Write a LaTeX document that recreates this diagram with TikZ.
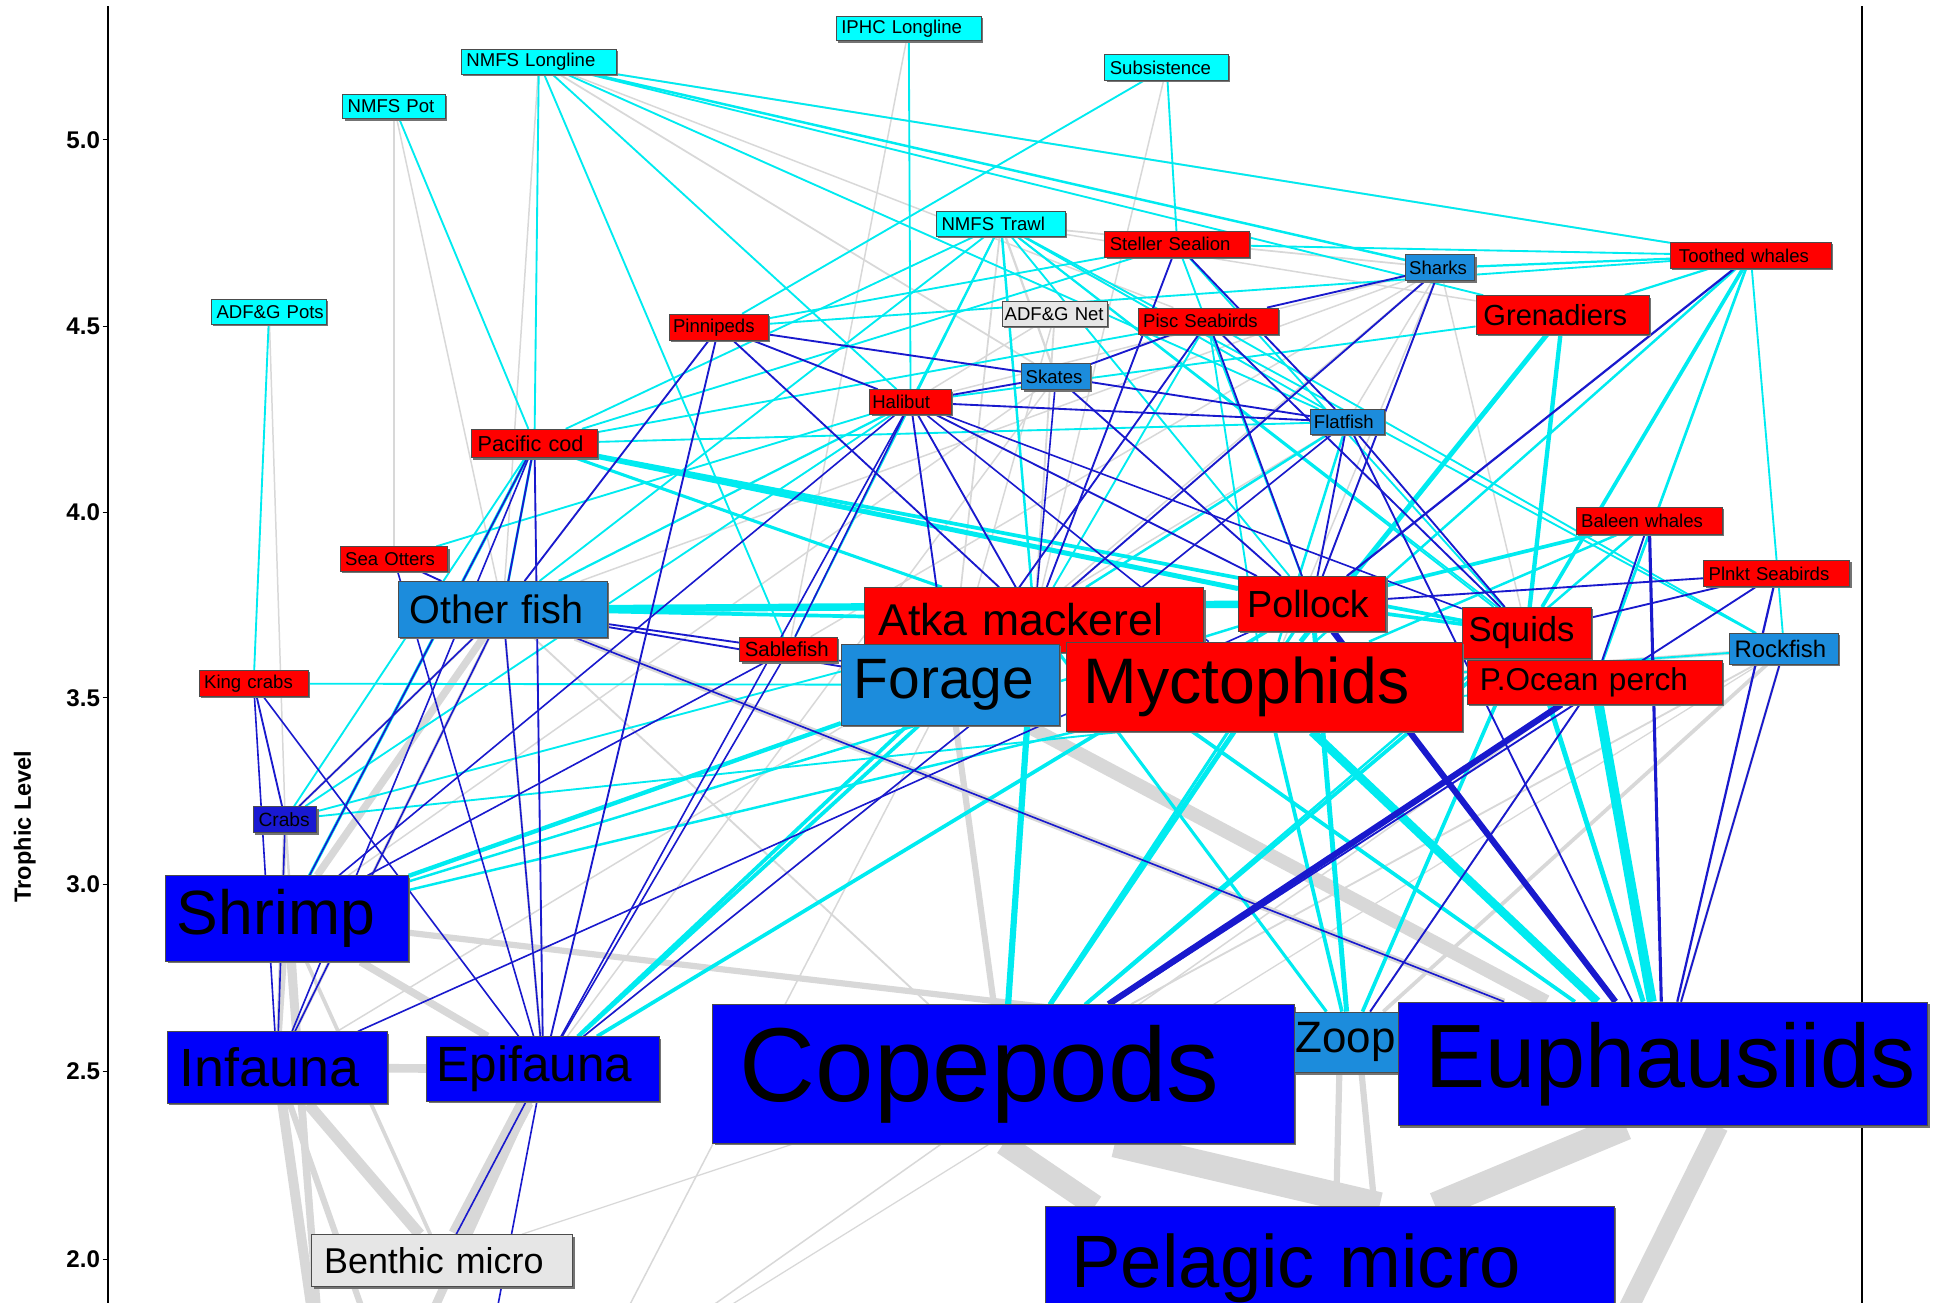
\documentclass[tikz,border=0pt]{standalone}
\usepackage{fontspec}
\setmainfont{Liberation Sans}
\usetikzlibrary{shadows}
\pgfdeclarelayer{bg}
\pgfsetlayers{bg,main}

\definecolor{fCy}{RGB}{0,255,255}
\definecolor{fRd}{RGB}{255,0,0}
\definecolor{fSt}{RGB}{28,140,220}
\definecolor{fBl}{RGB}{0,0,250}
\definecolor{fCb}{RGB}{25,25,210}
\definecolor{fGy}{RGB}{230,230,230}
\definecolor{eCy}{RGB}{0,235,240}
\definecolor{eDb}{RGB}{25,25,205}
\definecolor{eGy}{RGB}{216,216,216}

\tikzset{
  bx/.style={draw=black!70, line width=0.8pt, inner ysep=0pt, align=left,
    drop shadow={shadow xshift=1.5pt, shadow yshift=-1.5pt, fill=black!55, opacity=1}},
  nd/.style n args={4}{text width=#1pt, minimum height=#2pt, inner xsep=#3pt,
    font=\fontsize{#4}{#4}\selectfont},
  lg/.style={draw=eGy, line width=#1pt},
  lc/.style={draw=eCy, line width=#1pt},
  ld/.style={draw=eDb, line width=#1pt},
  tick/.style={anchor=east, inner sep=0pt, font=\bfseries\fontsize{19.5}{19.5}\selectfont}
}

\begin{document}
\begin{tikzpicture}[x=1pt, y=-1pt, line cap=butt]
\useasboundingbox (0,0) rectangle (1568,1053);
\clip (0,0) rectangle (1568,1053);

% ---------- fisheries ----------
\node[bx, fill=fCy, nd={109}{20}{4}{15}] (iphc) at (734.5,23) {\mbox{IPHC Longline}};
\node[bx, fill=fCy, nd={117}{20}{4}{15}] (nll) at (435.5,50) {\mbox{NMFS Longline}};
\node[bx, fill=fCy, nd={92}{21}{4}{15}] (subs) at (943,54.5) {\mbox{Subsistence}};
\node[bx, fill=fCy, nd={75}{20}{4}{15}] (npot) at (318.5,86) {\mbox{NMFS Pot}};
\node[bx, fill=fCy, nd={96}{20}{4}{15}] (ntrawl) at (809,181) {\mbox{NMFS Trawl}};
\node[bx, fill=fCy, nd={85}{20}{4}{15}] (apots) at (217.5,252) {\mbox{ADF\&G Pots}};
\node[bx, fill=fGy, nd={81}{20}{2}{15}] (anet) at (852.5,254) {\mbox{ADF\&G Net}};

% ---------- upper predators ----------
\node[bx, fill=fRd, nd={109}{21}{4}{15}] (steller) at (951.5,197.5) {\mbox{Steller Sealion}};
\node[bx, fill=fSt, nd={50}{21}{3}{15}] (sharks) at (1164,216.5) {\mbox{Sharks}};
\node[bx, fill=fRd, nd={116}{21}{7}{15}] (toothed) at (1415,206.5) {\mbox{Toothed whales}};
\node[bx, fill=fRd, nd={128}{31}{6}{23.5}] (gren) at (1263,254.5) {\mbox{Grenadiers}};
\node[bx, fill=fRd, nd={105}{21}{4}{15}] (pisc) at (976.5,259.5) {\mbox{Pisc Seabirds}};
\node[bx, fill=fRd, nd={74}{21}{3}{15}] (pinn) at (581,264.5) {\mbox{Pinnipeds}};
\node[bx, fill=fSt, nd={49}{21}{3}{15}] (skates) at (853.5,304.5) {\mbox{Skates}};
\node[bx, fill=fRd, nd={62}{20}{2}{15}] (halibut) at (736,325) {\mbox{Halibut}};
\node[bx, fill=fSt, nd={54}{20}{3}{15}] (flat) at (1089,341) {\mbox{Flatfish}};
\node[bx, fill=fRd, nd={92}{23}{5}{17.5}] (pcod) at (432,358.5) {\mbox{Pacific cod}};
\node[bx, fill=fRd, nd={110}{22}{4}{15}] (baleen) at (1333,421) {\mbox{Baleen whales}};
\node[bx, fill=fRd, nd={79}{20}{4}{15}] (otters) at (318.5,452) {\mbox{Sea Otters}};
\node[bx, fill=fRd, nd={110}{21}{4}{15}] (plnkt) at (1436,463.5) {\mbox{Plnkt Seabirds}};

% ---------- fish ----------
\node[bx, fill=fSt, nd={151}{45}{9}{32}] (ofish) at (406.5,492.5) {\mbox{Other fish}};
\node[bx, fill=fRd, nd={252}{52}{11}{36}] (atka) at (836,501) {\mbox{Atka mackerel}};
\node[bx, fill=fRd, nd={105}{44}{7}{30.5}] (pollock) at (1060.5,488) {\mbox{Pollock}};
\node[bx, fill=fRd, nd={94}{41}{5}{28}] (squids) at (1234,511.5) {\mbox{Squids}};
\node[bx, fill=fSt, nd={80}{25}{4}{19.3}] (rock) at (1442,524.5) {\mbox{Rockfish}};
\node[bx, fill=fRd, nd={71}{20}{4}{16.5}] (sable) at (637.5,525) {\mbox{Sablefish}};
\node[bx, fill=fRd, nd={80}{21}{4}{15}] (kcrab) at (205,552.5) {\mbox{King crabs}};
\node[bx, fill=fSt, nd={156}{65}{10}{46}] (forage) at (768,553.5) {\mbox{Forage}};
\node[bx, fill=fRd, nd={292}{72}{14}{52}] (myct) at (1022,555) {\mbox{Myctophids}};
\node[bx, fill=fRd, nd={186}{35}{10}{25.5}] (pop) at (1289,551.5) {\mbox{P.Ocean perch}};

% ---------- invertebrates and plankton ----------
\node[bx, fill=fCb, nd={43}{21}{4}{15.5}] (crabs) at (230.5,662.5) {\mbox{Crabs}};
\node[bx, fill=fBl, nd={178}{69}{9}{50.5}] (shrimp) at (232,742.5) {\mbox{Shrimp}};
\node[bx, fill=fBl, nd={158}{58}{10}{43.5}] (infauna) at (224,863) {\mbox{Infauna}};
\node[bx, fill=fBl, nd={172}{52}{8}{40}] (epifauna) at (439,864) {\mbox{Epifauna}};
\node[bx, fill=fBl, nd={426}{112}{22}{85}] (cope) at (811,868) {\mbox{Copepods}};
\node[bx, fill=fSt, nd={87}{49}{1}{35.5}] (zoop) at (1090.5,842.5) {\mbox{Zoop}};
\node[bx, fill=fBl, nd={384}{100}{22}{72.7}] (euph) at (1344,860) {\mbox{Euphausiids}};
\node[bx, fill=fBl, nd={418}{100}{21}{60}] (pelagic) at (1075,1025) {\mbox{Pelagic micro}};
\node[bx, fill=fGy, nd={191}{42}{10}{29}] (benthic) at (357.5,1019) {\mbox{Benthic micro}};

% ---------- axis labels ----------
\node[tick] (t50) at (81,113) {5.0};
\node[tick] (t45) at (81,264) {4.5};
\node[tick] (t40) at (81,414) {4.0};
\node[tick] (t35) at (81,564) {3.5};
\node[tick] (t30) at (81,715) {3.0};
\node[tick] (t25) at (81,866) {2.5};
\node[tick] (t20) at (81,1018) {2.0};
\node[rotate=90, font=\bfseries\fontsize{19}{19}\selectfont] (ylab) at (20,668) {Trophic Level};

% flows that leave the plotted range
\coordinate (detA) at (262,1130);
\coordinate (detB) at (318,1130);
\coordinate (detC) at (470,1130);
\coordinate (detD) at (1125,1120);
\coordinate (detE) at (1290,1110);
\coordinate (detF) at (390,1120);

\begin{pgfonlayer}{bg}
  \clip (0,0) rectangle (1568,1053);
  \fill[white] (0,0) rectangle (1568,1053);
  % axis frame
  \draw[line width=1.5pt] (87,5) -- (87,1053);
  \draw[line width=1.1pt] (1505,5) -- (1505,1053);
  \foreach \yy in {113,264,414,564,715,866,1018} \draw[line width=1pt] (83,\yy) -- (87,\yy);

  % grey flows
  \foreach \a/\b/\w in {iphc/sable/1.2, nll/ofish/1.2, nll/skates/1.4, nll/toothed/1.4, nll/pisc/1.2,
      npot/otters/1.2, npot/ofish/1.2, apots/crabs/1.2, subs/atka/1.2, ntrawl/skates/1.8,
      ntrawl/sharks/1.4, ntrawl/forage/1.4, ntrawl/gren/1.2, anet/forage/1.2, anet/halibut/1.2,
      anet/atka/1.5, sharks/flat/1.2, sharks/myct/1.2, sharks/forage/1.2, sharks/squids/1.2,
      sharks/sable/1.2, sharks/atka/1.2, sharks/ofish/1.2, sharks/pollock/1.2, sharks/halibut/1.2,
      skates/shrimp/1.2, skates/epifauna/1.2, flat/infauna/1.2, flat/epifauna/1.2,
      rock/cope/1.5, rock/euph/2, rock/zoop/3, pop/zoop/1.5, rock/myct/3,
      ofish/epifauna/2, ofish/infauna/2.5, ofish/cope/1.5, ofish/crabs/2, shrimp/benthic/3,
      shrimp/infauna/4, crabs/infauna/3, benthic/cope/1,
      forage/euph/11, ofish/euph/5, ofish/shrimp/6, shrimp/zoop/5, shrimp/epifauna/6,
      infauna/epifauna/7, infauna/benthic/9, epifauna/benthic/13, forage/cope/5,
      crabs/detA/2, shrimp/detA/6, infauna/detA/8, infauna/detB/5, epifauna/detB/7,
      detC/forage/1.2, detC/pop/1.2, detC/rock/1}
    \draw[lg=\w] (\a) -- (\b);
  \draw[lg=18] (cope.south) -- ([xshift=-190pt]pelagic.north);
  \draw[lg=22] ([xshift=90pt]cope.south) -- ([xshift=40pt]pelagic.north);
  \draw[lg=22] ([xshift=-30pt]euph.south) -- ([xshift=85pt]pelagic.north);
  \draw[lg=16] ([xshift=45pt]euph.south) -- (detE);
  \draw[lg=5] ([xshift=-8pt]zoop.south) -- ([xshift=5pt]pelagic.north);
  \draw[lg=5] ([xshift=10pt]zoop.south) -- (detD);

  % cyan flows
  \foreach \a/\b/\w in {iphc/halibut/1.5, nll/pcod/1.5, nll/sable/1.5, nll/halibut/1.5, nll/sharks/2,
      nll/gren/1.5, nll/toothed/1.5, nll/flat/1.5, npot/pcod/1.5, apots/kcrab/1.5,
      subs/steller/1.5, subs/pinn/1.5, ntrawl/pcod/1.5, ntrawl/halibut/1.5, ntrawl/atka/2,
      ntrawl/pollock/1.5, ntrawl/flat/1.5, ntrawl/rock/1.5, ntrawl/pop/1.5, ntrawl/sable/1.5,
      ntrawl/ofish/1.5, ntrawl/squids/1.5, steller/pcod/1.5, steller/pollock/1.5,
      steller/toothed/1.5, steller/squids/1.5, steller/pinn/1.5, toothed/gren/1.8,
      toothed/sharks/1.8, toothed/squids/3, toothed/pop/2.2, toothed/rock/1.5, toothed/pinn/1.5,
      toothed/myct/2, gren/myct/4, gren/squids/3.5, gren/halibut/1.5, pisc/atka/1.5,
      pisc/myct/1.5, pisc/rock/1.5, pisc/pcod/1.5, halibut/ofish/1.8, halibut/crabs/1.5,
      flat/myct/2, flat/atka/2, pcod/ofish/2, pcod/crabs/1.5, pcod/shrimp/2.5, pcod/flat/1.5,
      pcod/pollock/4, pcod/atka/2.5, pcod/squids/3, otters/halibut/1.5, baleen/pollock/3,
      baleen/myct/2, baleen/cope/2, pollock/squids/3, rock/myct/1.5, squids/cope/3,
      squids/zoop/3, squids/euph/4, pollock/zoop/4, pollock/cope/2.5, pollock/euph/4,
      atka/cope/5, atka/zoop/2.5, atka/euph/3, myct/euph/7, myct/cope/4, myct/zoop/3, pop/euph/8,
      forage/shrimp/3.5, forage/epifauna/3, ofish/pollock/6, ofish/atka/3, kcrab/forage/1.5,
      crabs/atka/1.5, crabs/pop/1.5, shrimp/myct/2, shrimp/pollock/2, epifauna/pollock/3,
      epifauna/atka/3}
    \draw[lc=\w] (\a) -- (\b);

  % dark blue flows
  \foreach \a/\b/\w in {steller/atka/1.5, steller/flat/1.5, toothed/pollock/1.8, sharks/pisc/1.5,
      sharks/atka/1.5, sharks/pollock/1.5, pisc/skates/1.5, pisc/forage/1.5, pisc/pollock/1.5,
      pisc/squids/1.5, pinn/skates/1.5, pinn/halibut/1.5, pinn/atka/1.5, pinn/epifauna/1.5,
      pinn/ofish/1.5, halibut/pollock/1.5, halibut/atka/1.5, halibut/forage/1.5,
      halibut/epifauna/1.3, halibut/shrimp/1.3, halibut/flat/1.5, halibut/squids/1.3,
      halibut/skates/1.5, halibut/sable/1.3, halibut/myct/1.3, skates/flat/1.5, skates/atka/1.3,
      skates/pollock/1.5, flat/pollock/1.5, flat/squids/1.5, flat/euph/1.5, flat/epifauna/1.3,
      pcod/epifauna/1.5, pcod/shrimp/1.3, pcod/infauna/1.3, pcod/ofish/1.5, otters/ofish/1.5,
      otters/epifauna/1.3, baleen/pop/1.5, baleen/euph/2.5, plnkt/squids/1.5, plnkt/pollock/1.5,
      plnkt/cope/1.5, plnkt/euph/1.8, rock/euph/1.5, pollock/euph/5, cope/pop/5, zoop/pop/1.5,
      ofish/forage/1.5, ofish/sable/1.5, ofish/euph/1.3, ofish/epifauna/1.3, ofish/crabs/1.3,
      sable/epifauna/1.3, sable/shrimp/1.3, sable/forage/1.3, kcrab/crabs/1.5,
      kcrab/infauna/1.3, kcrab/epifauna/1.3, crabs/infauna/1.3, infauna/pollock/1.3,
      infauna/ofish/1.3, epifauna/benthic/1.3, epifauna/detF/1.3}
    \draw[ld=\w] (\a) -- (\b);
\end{pgfonlayer}
\end{tikzpicture}
\end{document}
